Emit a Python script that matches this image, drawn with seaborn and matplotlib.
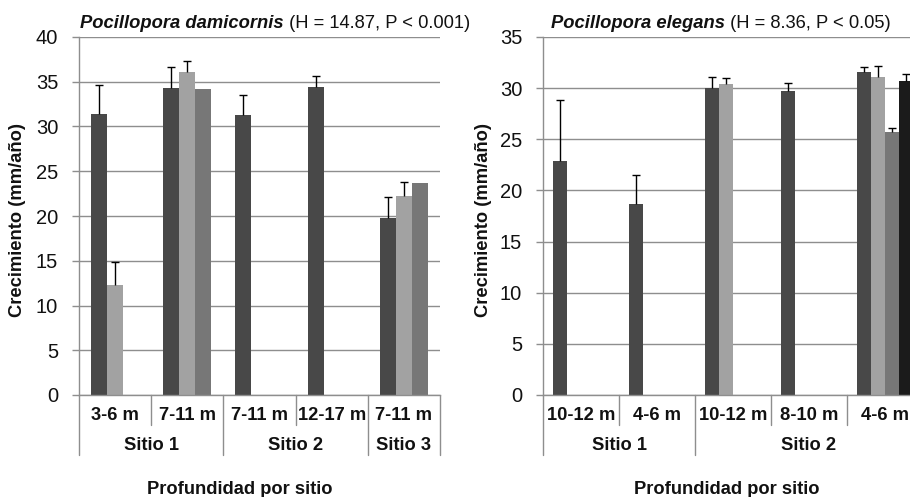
import numpy as np
import pandas as pd
import matplotlib
matplotlib.use("Agg")
import matplotlib.pyplot as plt
import matplotlib.transforms as mtrans
from matplotlib.container import BarContainer
import seaborn as sns

nan = np.nan

# ---------------- data ----------------
series_names = ["A", "B", "C", "D"]

left_depths = ["3-6 m", "7-11 m", "7-11 m", "12-17 m", "7-11 m"]
left_sites = ["Sitio 1", "Sitio 1", "Sitio 2", "Sitio 2", "Sitio 3"]
left_s1 = [31.4, 34.3, 31.25, 34.4, 19.8]
left_s1_err = [3.2, 2.3, 2.25, 1.2, 2.3]
left_s2 = [12.3, 36.1, nan, nan, 22.2]
left_s2_err = [2.6, 1.2, nan, nan, 1.6]
left_s3 = [nan, 34.2, nan, nan, 23.65]
left_s3_err = [nan, 0.0, nan, nan, 0.0]

right_depths = ["10-12 m", "4-6 m", "10-12 m", "8-10 m", "4-6 m"]
right_sites = ["Sitio 1", "Sitio 1", "Sitio 2", "Sitio 2", "Sitio 2"]
right_s1 = [22.9, 18.7, 30.0, 29.7, 31.6]
right_s1_err = [5.9, 2.8, 1.05, 0.8, 0.45]
right_s2 = [nan, nan, 30.4, nan, 31.1]
right_s2_err = [nan, nan, 0.55, nan, 1.1]
right_s3 = [nan, nan, nan, nan, 25.7]
right_s3_err = [nan, nan, nan, nan, 0.37]
right_s4 = [nan, nan, nan, nan, 30.7]
right_s4_err = [nan, nan, nan, nan, 0.7]

left_title_species = "Pocillopora damicornis"
left_title_stats = " (H = 14.87, P < 0.001)"
right_title_species = "Pocillopora elegans"
right_title_stats = " (H = 8.36, P < 0.05)"
ylabel = "Crecimiento (mm/año)"
xlabel = "Profundidad por sitio"

colors = ["#484848", "#a2a2a2", "#777777", "#1b1b1b"]

# ---------------- style ----------------
sns.set_style("white")
plt.rcParams["font.family"] = ["Liberation Sans", "DejaVu Sans"]

FS = 13.2
TICK_FS = 14.5

W, H = 910, 497
fig = plt.figure(figsize=(W / 100, H / 100), dpi=100)

def px_axes(x0, x1, ytop, ybot):
    return [x0 / W, 1 - ybot / H, (x1 - x0) / W, (ybot - ytop) / H]

ax_l = fig.add_axes(px_axes(79, 440, 37, 395))
ax_r = fig.add_axes(px_axes(543, 923, 37, 395))


def build_df(series):
    rows = []
    for j, vals in enumerate(series):
        for i, v in enumerate(vals):
            if not np.isnan(v):
                rows.append({"cat": f"c{i}", "series": series_names[j], "value": v})
    return pd.DataFrame(rows)


def draw_panel(ax, series, errs, depths, sites, ymax):
    n_series = len(series)
    ncat = len(depths)
    width = n_series / (n_series + 1.5)
    df = build_df(series)
    order = [f"c{i}" for i in range(ncat)]
    hue_order = series_names[:n_series]
    sns.barplot(data=df, x="cat", y="value", hue="series", order=order,
                hue_order=hue_order, palette=colors[:n_series], width=width,
                errorbar=None, legend=False, ax=ax, saturation=1,
                linewidth=0, zorder=2)
    bar_conts = [c for c in ax.containers if isinstance(c, BarContainer)]
    # error bars (upper only)
    for j, cont in enumerate(bar_conts):
        for patch in cont.patches:
            h = patch.get_height()
            if np.isnan(h):
                continue
            xc = patch.get_x() + patch.get_width() / 2
            i = int(round(xc))
            e = errs[j][i]
            if np.isnan(e) or e <= 0:
                continue
            eb = ax.errorbar([xc], [h], yerr=[[0], [e]], fmt="none",
                             ecolor="black", elinewidth=1.0, capsize=3.2,
                             capthick=1.0, zorder=3)
            caps = eb[1]
            if len(caps) > 1:
                caps[0].set_visible(False)

    ax.set_xlim(-0.5, ncat - 0.5)
    ax.set_ylim(0, ymax)
    ax.set_yticks(np.arange(0, ymax + 0.1, 5))
    ax.yaxis.grid(True, color="#8e8e8e", linewidth=1.0, zorder=0)
    ax.set_axisbelow(True)
    for s in ["top", "right"]:
        ax.spines[s].set_visible(False)
    for s in ["left", "bottom"]:
        ax.spines[s].set_color("#8e8e8e")
        ax.spines[s].set_linewidth(1.0)
    ax.tick_params(axis="y", which="both", left=True, length=5, width=1.0,
                   color="#8e8e8e", labelsize=TICK_FS, pad=10, labelcolor="#111111")
    ax.tick_params(axis="x", which="both", bottom=False, length=0)
    ax.set_xticks(range(ncat))
    ax.set_xticklabels([])
    ax.set_xlabel("")
    ax.set_ylabel("")

    trans = mtrans.blended_transform_factory(ax.transData, ax.transAxes)
    axh_px = 358.0
    inner = 30 / axh_px
    outer = 60 / axh_px
    for b in range(ncat + 1):
        xb = b - 0.5
        if b == 0 or b == ncat or sites[b - 1] != sites[b]:
            depth = outer
        else:
            depth = inner
        ax.plot([xb, xb], [0, -depth], transform=trans, color="#8e8e8e",
                linewidth=1.0, clip_on=False)
    for i, d in enumerate(depths):
        ax.text(i, -21 / axh_px, d, transform=trans, ha="center", va="center",
                fontsize=FS, fontweight="bold", color="#111111")
    uniq = []
    for i, s in enumerate(sites):
        if not uniq or uniq[-1][0] != s:
            uniq.append([s, i, i])
        else:
            uniq[-1][2] = i
    for s, a, b in uniq:
        ax.text((a + b) / 2, -50 / axh_px, s, transform=trans, ha="center",
                va="center", fontsize=FS, fontweight="bold", color="#111111")
    return ax


draw_panel(ax_l, [left_s1, left_s2, left_s3],
           [left_s1_err, left_s2_err, left_s3_err],
           left_depths, left_sites, 40)
draw_panel(ax_r, [right_s1, right_s2, right_s3, right_s4],
           [right_s1_err, right_s2_err, right_s3_err, right_s4_err],
           right_depths, right_sites, 35)


def title(xpx, sp, st):
    t1 = fig.text(xpx / W, 1 - 28 / H, sp, fontsize=FS, fontweight="bold",
                  fontstyle="italic", ha="left", va="baseline", color="#111111")
    fig.canvas.draw()
    bb = t1.get_window_extent()
    fig.text(bb.x1 / W, 1 - 28 / H, st, fontsize=FS, ha="left",
             va="baseline", color="#111111")

title(80, left_title_species, left_title_stats)
title(551, right_title_species, right_title_stats)

for xpx in (18, 484):
    fig.text(xpx / W, 1 - 220 / H, ylabel, rotation=90, ha="center",
             va="center", fontsize=FS, fontweight="bold", color="#111111")
for xpx in (240, 727):
    fig.text(xpx / W, 1 - 489 / H, xlabel, ha="center", va="center",
             fontsize=FS, fontweight="bold", color="#111111")

fig.savefig("out.png", dpi=100)
